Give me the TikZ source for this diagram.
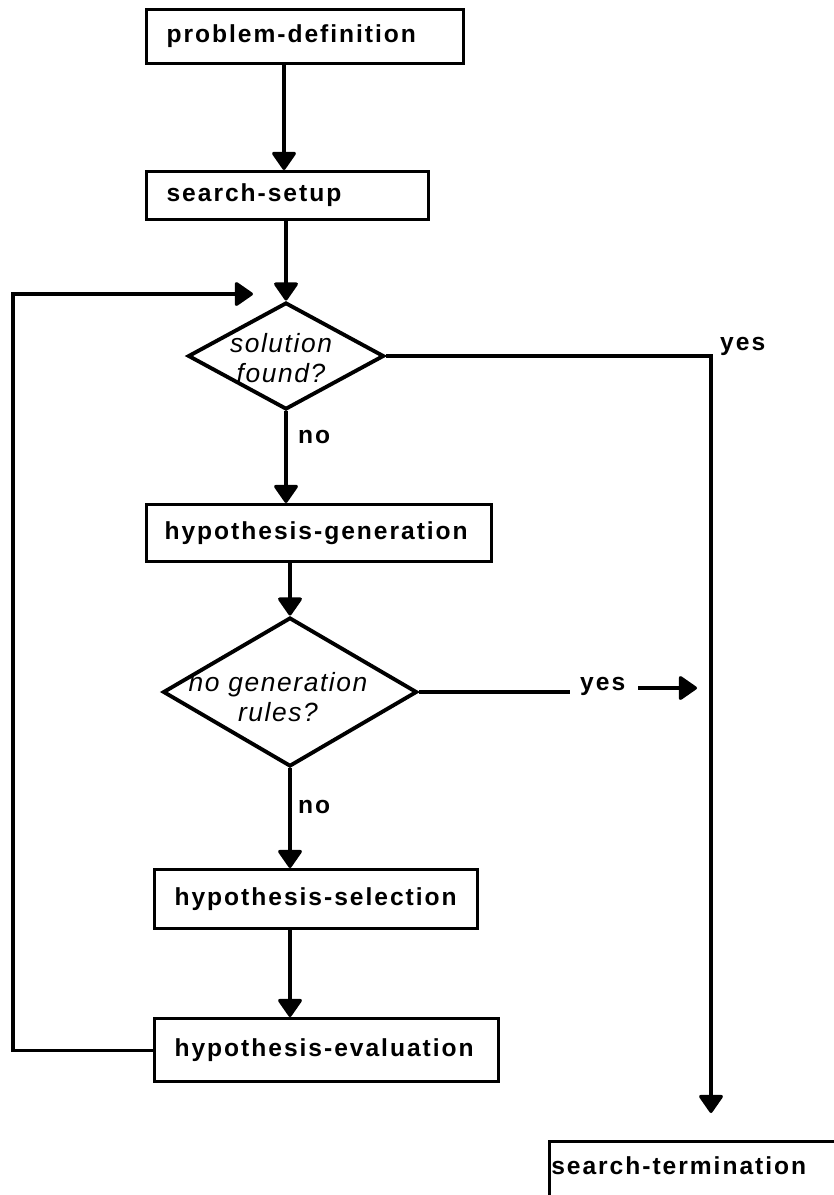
\documentclass[tikz,border=0pt]{standalone}
\usepackage{fontspec}
\usetikzlibrary{arrows.meta,shapes.geometric}
\newfontfamily\hvb[LetterSpace=8]{Liberation Sans Bold}
\newfontfamily\hvi[LetterSpace=6]{Liberation Sans Italic}
\begin{document}
\begin{tikzpicture}[x=0.03cm,y=-0.03cm,
  box/.style={draw, line width=2.7pt, rectangle, anchor=north west, align=left,
    inner xsep=0.6cm, inner ysep=0pt, font=\hvb\fontsize{21}{25}\selectfont},
  dia/.style={draw, diamond, line width=3.3pt, inner sep=0pt},
  dtext/.style={align=center, inner sep=0pt, font=\hvi\fontsize{22.5}{25.6}\selectfont},
  lbl/.style={anchor=base west, inner sep=0pt, font=\hvb\fontsize{21}{25}\selectfont},
  plain/.style={line width=2.7pt},
  arr/.style={line width=2.7pt, -{Triangle[width=0.78cm,length=0.58cm,round]}}]
\useasboundingbox (0,0) rectangle (834,1195);
\clip (0,0) rectangle (834,1195);
\fill[white] (0,0) rectangle (834,1195);

% boxes
\node[box, minimum width=9.51cm, minimum height=1.62cm, text width=8.31cm] (pd) at (145,8) {problem-definition};
\node[box, minimum width=8.46cm, minimum height=1.44cm, text width=7.26cm] (ss) at (145,170) {search-setup};
\node[box, minimum width=10.35cm, minimum height=1.71cm, text width=9.27cm, inner xsep=0.54cm] (hg) at (145,503) {hypothesis-generation};
\node[box, minimum width=9.69cm, minimum height=1.77cm, text width=8.49cm] (hs) at (153,868) {hypothesis-selection};
\node[box, minimum width=10.32cm, minimum height=1.89cm, text width=9.12cm] (he) at (153,1017) {hypothesis-evaluation};
\node[box, inner xsep=0.05cm, inner ysep=0.3cm, text width=9.2cm, text height=0.7cm, text depth=1.8cm] (st) at (548,1140) {search-termination};

% decisions
\node[dia, minimum width=5.88cm, minimum height=3.21cm] (d1) at (286,356) {};
\node[dtext] (d1t) at (281,358) {solution\\found?};
\node[dia, minimum width=7.62cm, minimum height=4.47cm] (d2) at (290,692) {};
\node[dtext] (d2t) at (278,697) {no generation\\rules?};

% labels
\node[lbl] (no1) at (298,443) {no};
\node[lbl] (no2) at (298,813) {no};
\node[lbl] (yes1) at (720,350) {yes};
\node[lbl] (yes2) at (580,690) {yes};

% helper coordinates
\coordinate (c1) at (284,0);
\coordinate (fbx) at (13,0);
\coordinate (fb) at (253,294);
\coordinate (yx) at (711,0);
\coordinate (y1e) at (711,1113);
\coordinate (y2a) at (570,0);
\coordinate (y2b) at (638,688);
\coordinate (y2c) at (697,688);

% connectors
\draw[arr] (pd.south -| c1) -- (ss.north -| c1);
\draw[arr] (ss.south -| d1.north) -- (d1.north);
\draw[arr] (d1.south) -- (hg.north -| d1.south);
\draw[arr] (hg.south -| d2.north) -- (d2.north);
\draw[arr] (d2.south) -- (hs.north -| d2.south);
\draw[arr] (hs.south -| d2.south) -- (he.north -| d2.south);
\draw[arr] (he.west) -- (he.west -| fbx) |- (fb);
\draw[arr] (d1.east) -- (d1.east -| yx) -- (y1e);
\draw[plain] (d2.east) -- (d2.east -| y2a);
\draw[arr] (y2b) -- (y2c);
\end{tikzpicture}
\end{document}
